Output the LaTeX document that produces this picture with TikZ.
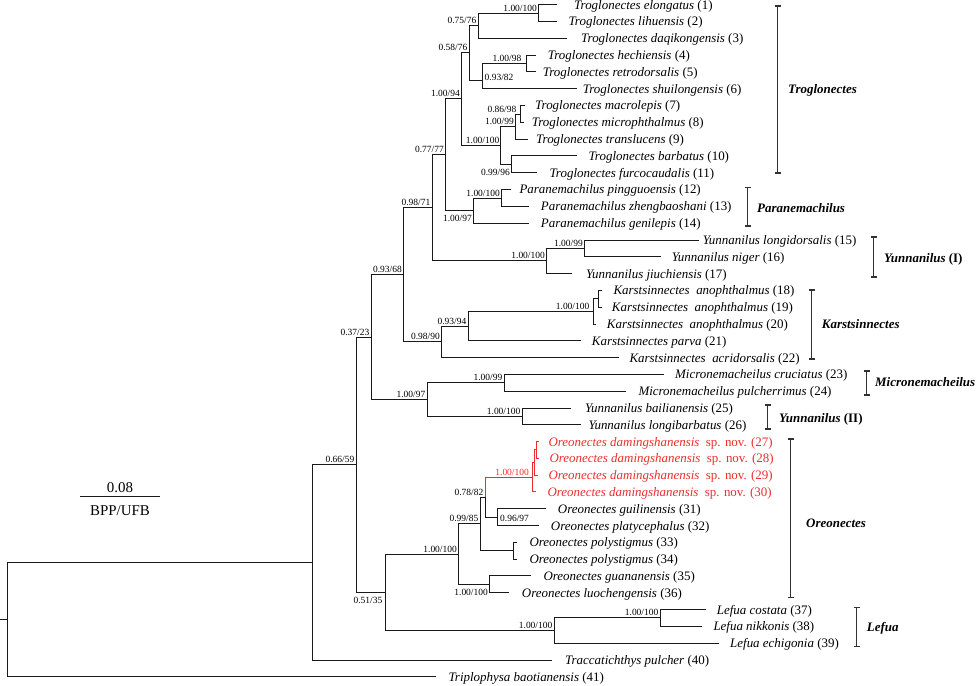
\documentclass[tikz,border=0pt]{standalone}
\usepackage{fontspec}
\setmainfont{Liberation Serif}
\usetikzlibrary{arrows.meta}
\definecolor{redsp}{RGB}{236,45,45}
\definecolor{barc}{RGB}{50,50,50}
\definecolor{brc}{RGB}{25,25,25}
\tikzset{
  br/.style={line width=1.8bp, draw=brc, line cap=rect},
  redbr/.style={line width=1.8bp, draw=redsp, line cap=rect},
  tiplab/.style={anchor=base west, inner sep=0pt, font=\fontsize{13}{15}\selectfont},
  supab/.style={anchor=base east, inner sep=0pt, font=\fontsize{9.5}{11}\selectfont},
  suprt/.style={anchor=base west, inner sep=0pt, font=\fontsize{9.5}{11}\selectfont},
  cladebar/.style={line width=1.6bp, draw=barc, {Bar[width=6bp,line width=1.6bp]}-{Bar[width=6bp,line width=1.6bp]}},
  cladelab/.style={anchor=base west, inner sep=0pt, font=\fontsize{13}{15}\selectfont\bfseries\itshape},
  scalelab/.style={inner sep=0pt, font=\fontsize{15}{17}\selectfont}
}
\begin{document}
\begin{tikzpicture}[x=1bp,y=-1bp]
\useasboundingbox (0,0) rectangle (980,686);
% ---------- tip ends ----------
\coordinate (t1) at (556.5,4.5);
\coordinate (t2) at (556.5,21.5);
\coordinate (t3) at (566.5,38.5);
\coordinate (t4) at (535.5,55.5);
\coordinate (t5) at (535.5,71.5);
\coordinate (t6) at (576.5,88.5);
\coordinate (t7) at (524.5,105.5);
\coordinate (t8) at (523.5,122.5);
\coordinate (t9) at (527.5,139.5);
\coordinate (t10) at (576.5,155.5);
\coordinate (t11) at (536.5,172.5);
\coordinate (t12) at (510.5,189.5);
\coordinate (t13) at (528.5,206.5);
\coordinate (t14) at (528.5,223.5);
\coordinate (t15) at (698.5,240.5);
\coordinate (t16) at (660.5,256.5);
\coordinate (t17) at (571.5,273.5);
\coordinate (t18) at (601.5,290.5);
\coordinate (t19) at (601.5,307.5);
\coordinate (t20) at (595.5,324.5);
\coordinate (t21) at (580.5,340.5);
\coordinate (t22) at (618.5,357.5);
\coordinate (t23) at (663.5,374.5);
\coordinate (t24) at (625.5,391.5);
\coordinate (t25) at (570.5,408.5);
\coordinate (t26) at (580.5,424.5);
\coordinate (t27) at (538.5,441.5);
\coordinate (t28) at (538.5,458.5);
\coordinate (t29) at (537.5,475.5);
\coordinate (t30) at (535.5,491.5);
\coordinate (t31) at (545.5,508.5);
\coordinate (t32) at (538.5,525.5);
\coordinate (t33) at (516.5,542.5);
\coordinate (t34) at (516.5,559.5);
\coordinate (t35) at (530.5,575.5);
\coordinate (t36) at (508.5,592.5);
\coordinate (t37) at (705.5,609.5);
\coordinate (t38) at (701.5,626.5);
\coordinate (t39) at (718.5,643.5);
\coordinate (t40) at (551.5,660.5);
\coordinate (t41) at (435.5,676.5);
% ---------- internal nodes ----------
\coordinate (nA) at (538.5,13.5);
\coordinate (nB) at (478.5,25.5);
\coordinate (nC) at (526.5,63.5);
\coordinate (nD) at (482.5,80.5);
\coordinate (nE) at (469.5,52.5);
\coordinate (n78) at (520.5,114.5);
\coordinate (n789) at (515.5,126.5);
\coordinate (n1011) at (511.5,164.5);
\coordinate (n711) at (500.5,145.5);
\coordinate (nF) at (461.5,98.5);
\coordinate (n1213) at (501.5,198.5);
\coordinate (nP) at (473.5,210.5);
\coordinate (nG) at (445.5,154.5);
\coordinate (n1516) at (584.5,248.5);
\coordinate (nY) at (546.5,260.5);
\coordinate (nH) at (432.5,207.5);
\coordinate (n1819) at (598.5,298.5);
\coordinate (n1820) at (593.5,311.5);
\coordinate (n1821) at (468.5,326.5);
\coordinate (n1822) at (441.5,341.5);
\coordinate (nI) at (403.5,274.5);
\coordinate (n2324) at (504.5,382.5);
\coordinate (n2526) at (522.5,416.5);
\coordinate (nMY) at (427.5,399.5);
\coordinate (nJ) at (371.5,337.5);
\coordinate (r2728) at (536.5,449.5);
\coordinate (r2729) at (534.5,462.5);
\coordinate (rAll) at (532.5,477.5);
\coordinate (n3132) at (497.5,517.5);
\coordinate (nO78) at (485.5,497.5);
\coordinate (n3334) at (513.5,550.5);
\coordinate (n99) at (480.5,523.5);
\coordinate (n3536) at (489.5,584.5);
\coordinate (nO) at (458.5,554.5);
\coordinate (n3738) at (660.5,617.5);
\coordinate (nLf) at (554.5,630.5);
\coordinate (nM) at (385.5,592.5);
\coordinate (nK) at (356.5,464.5);
\coordinate (nL) at (312.5,562.5);
\coordinate (nR) at (7.5,619.5);
\coordinate (stub) at (0,619.5);
% ---------- branches ----------
\draw[br] (nA) |- (t1); \draw[br] (nA) |- (t2);
\draw[br] (nB) |- (nA); \draw[br] (nB) |- (t3);
\draw[br] (nC) |- (t4); \draw[br] (nC) |- (t5);
\draw[br] (nD) |- (nC); \draw[br] (nD) |- (t6);
\draw[br] (nE) |- (nB); \draw[br] (nE) |- (nD);
\draw[br] (n78) |- (t7); \draw[br] (n78) |- (t8);
\draw[br] (n789) |- (n78); \draw[br] (n789) |- (t9);
\draw[br] (n1011) |- (t10); \draw[br] (n1011) |- (t11);
\draw[br] (n711) |- (n789); \draw[br] (n711) |- (n1011);
\draw[br] (nF) |- (nE); \draw[br] (nF) |- (n711);
\draw[br] (n1213) |- (t12); \draw[br] (n1213) |- (t13);
\draw[br] (nP) |- (n1213); \draw[br] (nP) |- (t14);
\draw[br] (nG) |- (nF); \draw[br] (nG) |- (nP);
\draw[br] (n1516) |- (t15); \draw[br] (n1516) |- (t16);
\draw[br] (nY) |- (n1516); \draw[br] (nY) |- (t17);
\draw[br] (nH) |- (nG); \draw[br] (nH) |- (nY);
\draw[br] (n1819) |- (t18); \draw[br] (n1819) |- (t19);
\draw[br] (n1820) |- (n1819); \draw[br] (n1820) |- (t20);
\draw[br] (n1821) |- (n1820); \draw[br] (n1821) |- (t21);
\draw[br] (n1822) |- (n1821); \draw[br] (n1822) |- (t22);
\draw[br] (nI) |- (nH); \draw[br] (nI) |- (n1822);
\draw[br] (n2324) |- (t23); \draw[br] (n2324) |- (t24);
\draw[br] (n2526) |- (t25); \draw[br] (n2526) |- (t26);
\draw[br] (nMY) |- (n2324); \draw[br] (nMY) |- (n2526);
\draw[br] (nJ) |- (nI); \draw[br] (nJ) |- (nMY);
\draw[redbr] (r2728) |- (t27); \draw[redbr] (r2728) |- (t28);
\draw[redbr] (r2729) |- (r2728); \draw[redbr] (r2729) |- (t29);
\draw[redbr] (rAll) |- (r2729); \draw[redbr] (rAll) |- (t30);
\draw[br] (n3132) |- (t31); \draw[br] (n3132) |- (t32);
\draw[br] (nO78) |- (n3132); \draw[redbr] (nO78) |- (rAll);
\draw[br] (n3334) |- (t33); \draw[br] (n3334) |- (t34);
\draw[br] (n99) |- (nO78); \draw[br] (n99) |- (n3334);
\draw[br] (n3536) |- (t35); \draw[br] (n3536) |- (t36);
\draw[br] (nO) |- (n99); \draw[br] (nO) |- (n3536);
\draw[br] (n3738) |- (t37); \draw[br] (n3738) |- (t38);
\draw[br] (nLf) |- (n3738); \draw[br] (nLf) |- (t39);
\draw[br] (nM) |- (nO); \draw[br] (nM) |- (nLf);
\draw[br] (nK) |- (nJ); \draw[br] (nK) |- (nM);
\draw[br] (nL) |- (nK); \draw[br] (nL) |- (t40);
\draw[br] (nR) |- (nL); \draw[br] (nR) |- (t41);
\draw[br] (stub) -- (nR);
% ---------- support values ----------
\node[supab] (sA) at ([xshift=-1.5bp,yshift=2bp]nA) {1.00/100};
\node[supab] (sB) at ([xshift=-2bp,yshift=2bp]nB) {0.75/76};
\node[supab] (sE) at ([xshift=-2bp,yshift=2bp]nE) {0.58/76};
\node[supab] (sC) at ([xshift=-5bp,yshift=2bp]nC) {1.00/98};
\node[suprt] (sD) at ([xshift=2bp,yshift=-0.5bp]nD) {0.93/82};
\node[supab] (sF) at ([xshift=-1.5bp,yshift=2bp]nF) {1.00/94};
\node[supab] (s78) at ([xshift=-4bp,yshift=2bp]n78) {0.86/98};
\node[supab] (s789) at ([xshift=-1.5bp,yshift=2bp]n789) {1.00/99};
\node[supab] (s711) at ([xshift=-1bp,yshift=2bp]n711) {1.00/100};
\node[supab] (s1011) at ([xshift=-1.5bp,yshift=-11bp]n1011) {0.99/96};
\node[supab] (sG) at ([xshift=-1.5bp,yshift=2bp]nG) {0.77/77};
\node[supab] (s1213) at ([xshift=-1.5bp,yshift=2bp]n1213) {1.00/100};
\node[supab] (sP) at ([xshift=-1.5bp,yshift=-11bp]nP) {1.00/97};
\node[supab] (s1516) at ([xshift=-1.5bp,yshift=2bp]n1516) {1.00/99};
\node[supab] (sY) at ([xshift=-1.5bp,yshift=2bp]nY) {1.00/100};
\node[supab] (sH) at ([xshift=-2bp,yshift=2bp]nH) {0.98/71};
\node[supab] (s1820) at ([xshift=-4bp,yshift=2bp]n1820) {1.00/100};
\node[supab] (s1821) at ([xshift=-2bp,yshift=2bp]n1821) {0.93/94};
\node[supab] (s1822) at ([xshift=-1.5bp,yshift=2bp]n1822) {0.98/90};
\node[supab] (sI) at ([xshift=-1.5bp,yshift=2bp]nI) {0.93/68};
\node[supab] (s2324) at ([xshift=-2bp,yshift=2bp]n2324) {1.00/99};
\node[supab] (s2526) at ([xshift=-2bp,yshift=2bp]n2526) {1.00/100};
\node[supab] (sMY) at ([xshift=-2bp,yshift=2bp]nMY) {1.00/97};
\node[supab] (sJ) at ([xshift=-2bp,yshift=2bp]nJ) {0.37/23};
\node[supab,text=redsp] (sR) at ([xshift=-3.5bp,yshift=2bp]rAll) {1.00/100};
\node[supab] (sO78) at ([xshift=-2bp,yshift=2bp]nO78) {0.78/82};
\node[suprt] (s3132) at ([xshift=2.5bp,yshift=-3.5bp]n3132) {0.96/97};
\node[supab] (s99) at ([xshift=-2bp,yshift=2bp]n99) {0.99/85};
\node[supab] (sO) at ([xshift=-1.5bp,yshift=2bp]nO) {1.00/100};
\node[supab] (s3536) at ([xshift=-1.5bp,yshift=-10.5bp]n3536) {1.00/100};
\node[supab] (s3738) at ([xshift=-2bp,yshift=2bp]n3738) {1.00/100};
\node[supab] (sLf) at ([xshift=-2bp,yshift=2bp]nLf) {1.00/100};
\node[supab] (sM) at ([xshift=-3bp,yshift=-11bp]nM) {0.51/35};
\node[supab] (sK) at ([xshift=-2bp,yshift=2bp]nK) {0.66/59};
% ---------- tip labels ----------
\node[tiplab] (L1) at (574,9.2) {\textit{Troglonectes elongatus} (1)};
\node[tiplab] (L2) at (568.3,26) {\textit{Troglonectes lihuensis} (2)};
\node[tiplab] (L3) at (581,42.8) {\textit{Troglonectes daqikongensis} (3)};
\node[tiplab] (L4) at (547.7,59.6) {\textit{Troglonectes hechiensis} (4)};
\node[tiplab] (L5) at (542.7,76.4) {\textit{Troglonectes retrodorsalis} (5)};
\node[tiplab] (L6) at (582.7,93.2) {\textit{Troglonectes shuilongensis} (6)};
\node[tiplab] (L7) at (535,110) {\textit{Troglonectes macrolepis} (7)};
\node[tiplab] (L8) at (531.7,126.8) {\textit{Troglonectes microphthalmus} (8)};
\node[tiplab] (L9) at (536,143.6) {\textit{Troglonectes translucens} (9)};
\node[tiplab] (L10) at (588.3,160.4) {\textit{Troglonectes barbatus} (10)};
\node[tiplab] (L11) at (549.3,177.2) {\textit{Troglonectes furcocaudalis} (11)};
\node[tiplab] (L12) at (519.3,194) {\textit{Paranemachilus pingguoensis} (12)};
\node[tiplab] (L13) at (540.7,210.8) {\textit{Paranemachilus zhengbaoshani} (13)};
\node[tiplab] (L14) at (540.7,227.6) {\textit{Paranemachilus genilepis} (14)};
\node[tiplab] (L15) at (702.7,244.4) {\textit{Yunnanilus longidorsalis} (15)};
\node[tiplab] (L16) at (671.7,261.2) {\textit{Yunnanilus niger} (16)};
\node[tiplab] (L17) at (586,278) {\textit{Yunnanilus jiuchiensis} (17)};
\node[tiplab] (L18) at (613.3,294.8) {\textit{Karstsinnectes\ \ anophthalmus} (18)};
\node[tiplab] (L19) at (611.7,311.6) {\textit{Karstsinnectes\ \ anophthalmus} (19)};
\node[tiplab] (L20) at (606.7,328.4) {\textit{Karstsinnectes\ \ anophthalmus} (20)};
\node[tiplab] (L21) at (591.7,345.2) {\textit{Karstsinnectes parva} (21)};
\node[tiplab] (L22) at (629.3,362) {\textit{Karstsinnectes\ \ acridorsalis} (22)};
\node[tiplab] (L23) at (675,378.8) {\textit{Micronemacheilus cruciatus} (23)};
\node[tiplab] (L24) at (638.3,395.6) {\textit{Micronemacheilus pulcherrimus} (24)};
\node[tiplab] (L25) at (585,412.4) {\textit{Yunnanilus bailianensis} (25)};
\node[tiplab] (L26) at (588.3,429.2) {\textit{Yunnanilus longibarbatus} (26)};
\node[tiplab,text=redsp] (L27) at (548.3,446) {\textit{Oreonectes damingshanensis}\ \ sp. nov. (27)};
\node[tiplab,text=redsp] (L28) at (549.3,462.8) {\textit{Oreonectes damingshanensis}\ \ sp. nov. (28)};
\node[tiplab,text=redsp] (L29) at (548.3,479.6) {\textit{Oreonectes damingshanensis}\ \ sp. nov. (29)};
\node[tiplab,text=redsp] (L30) at (547.3,496.4) {\textit{Oreonectes damingshanensis}\ \ sp. nov. (30)};
\node[tiplab] (L31) at (557.7,513.2) {\textit{Oreonectes guilinensis} (31)};
\node[tiplab] (L32) at (550.7,530) {\textit{Oreonectes platycephalus} (32)};
\node[tiplab] (L33) at (529.3,546.8) {\textit{Oreonectes polystigmus} (33)};
\node[tiplab] (L34) at (529.3,563.6) {\textit{Oreonectes polystigmus} (34)};
\node[tiplab] (L35) at (543.3,580.4) {\textit{Oreonectes guananensis} (35)};
\node[tiplab] (L36) at (521.7,597.2) {\textit{Oreonectes luochengensis} (36)};
\node[tiplab] (L37) at (716.7,614) {\textit{Lefua costata} (37)};
\node[tiplab] (L38) at (713.3,630.8) {\textit{Lefua nikkonis} (38)};
\node[tiplab] (L39) at (730,647.6) {\textit{Lefua echigonia} (39)};
\node[tiplab] (L40) at (565,664.4) {\textit{Traccatichthys pulcher} (40)};
\node[tiplab] (L41) at (448.3,681.2) {\textit{Triplophysa baotianensis} (41)};
% ---------- clade bars ----------
\draw[cladebar] (777.5,5) -- (777.5,174);
\node[cladelab] (cT) at (788,93.8) {Troglonectes};
\draw[cladebar] (747.5,186.7) -- (747.5,226.7);
\node[cladelab] (cP) at (757,212.8) {Paranemachilus};
\draw[cladebar] (873.5,236) -- (873.5,277.7);
\node[cladelab] (cY1) at (884,262.2) {Yunnanilus \upshape(I)};
\draw[cladebar] (811.5,289.3) -- (811.5,360);
\node[cladelab] (cK) at (821.7,328.8) {Karstsinnectes};
\draw[cladebar] (866.5,370) -- (866.5,396);
\node[cladelab] (cM) at (875,386.8) {Micronemacheilus};
\draw[cladebar] (767.5,404) -- (767.5,430);
\node[cladelab] (cY2) at (779,422.8) {Yunnanilus \upshape(II)};
\draw[cladebar] (790.5,438.3) -- (790.5,598.3);
\node[cladelab] (cO) at (806,527.2) {Oreonectes};
\draw[cladebar] (856.5,606.7) -- (856.5,647.3);
\node[cladelab] (cL) at (866.7,631.2) {Lefua};
% ---------- scale ----------
\coordinate (sc1) at (80,496.5);
\coordinate (sc2) at (160,496.5);
\draw[line width=1.8bp, draw=brc] (sc1) -- (sc2);
\node[scalelab, anchor=base] (scv) at (120,492) {0.08};
\node[scalelab, anchor=base] (scl) at (120,515.5) {BPP/UFB};
\end{tikzpicture}
\end{document}
